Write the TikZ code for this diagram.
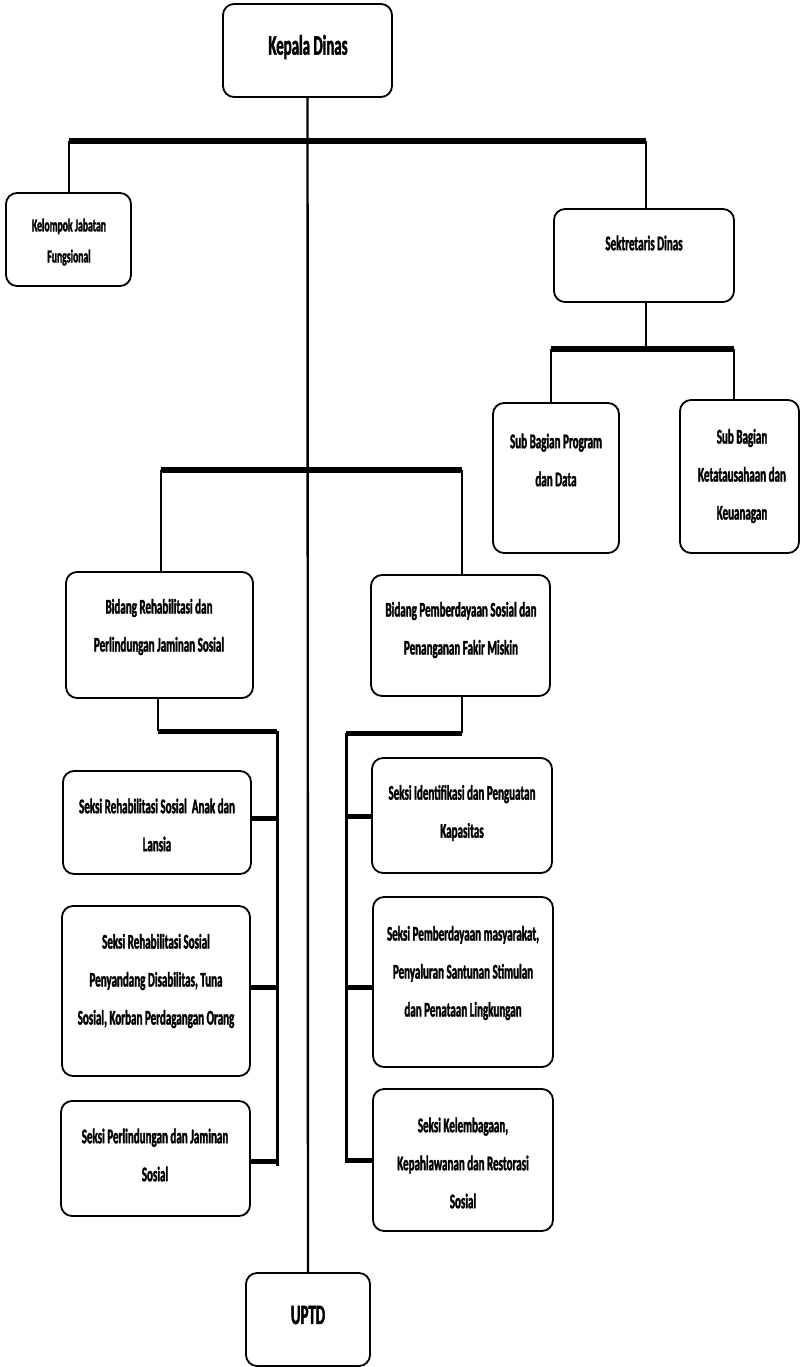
\documentclass[tikz,border=0pt]{standalone}
\usepackage{fontspec}
\setmainfont{Carlito}[FakeStretch=0.53, BoldFont={Carlito Bold}, BoldFeatures={FakeBold=1.6}]
\tikzset{
  box/.style={draw, line width=1.8pt, rounded corners=11pt, inner sep=0pt, outer sep=0pt},
  txt/.style={align=center, inner sep=0pt, font=\bfseries\fontsize{20.8}{38}\selectfont},
  txtbig/.style={align=center, inner sep=0pt, font=\bfseries\fontsize{28}{40}\selectfont},
  txtsmall/.style={align=center, inner sep=0pt, font=\bfseries\fontsize{18.3}{31}\selectfont},
  thin/.style={line width=2.4pt},
  mid/.style={line width=3pt},
  thick/.style={line width=6pt},
  stub/.style={line width=5pt},
}
\begin{document}
\begin{tikzpicture}[x=1pt,y=-1pt]
\useasboundingbox (0,0) rectangle (801,1367);
% boxes
\node[box, minimum width=169pt, minimum height=93pt] (kd) at (307.5,50.5) {};
\node[box, minimum width=125pt, minimum height=93pt] (kjf) at (68.5,239.5) {};
\node[box, minimum width=180pt, minimum height=93pt] (sd) at (644,255.5) {};
\node[box, minimum width=126pt, minimum height=150pt] (sbp) at (556,478) {};
\node[box, minimum width=119pt, minimum height=153pt] (sbk) at (739.5,476.5) {};
\node[box, minimum width=187pt, minimum height=126pt] (br) at (159.5,635) {};
\node[box, minimum width=179pt, minimum height=121pt] (bp) at (460.5,635.5) {};
\node[box, minimum width=188pt, minimum height=103pt] (s1) at (157,822.5) {};
\node[box, minimum width=188pt, minimum height=170pt] (s2) at (156,991) {};
\node[box, minimum width=189pt, minimum height=115pt] (s3) at (155.5,1158.5) {};
\node[box, minimum width=180pt, minimum height=115pt] (t1) at (462,815.5) {};
\node[box, minimum width=180pt, minimum height=170pt] (t2) at (463,982) {};
\node[box, minimum width=180pt, minimum height=142pt] (t3) at (463,1160) {};
\node[box, minimum width=124pt, minimum height=93pt] (uptd) at (308,1319.5) {};
% texts
\node[txtbig] (lkd) at (308,47) {Kepala Dinas};
\node[txtsmall] (lkjf) at (69,242) {Kelompok Jabatan\\Fungsional};
\node[txt] (lsd) at (644,243) {Sektretaris Dinas};
\node[txt] (lsbp) at (556,460) {Sub Bagian Program\\dan Data};
\node[txt] (lsbk) at (742,476) {Sub Bagian\\Ketatausahaan dan\\Keuanagan};
\node[txt] (lbr) at (159,627) {Bidang Rehabilitasi dan\\Perlindungan Jaminan Sosial};
\node[txt] (lbp) at (461,630) {Bidang Pemberdayaan Sosial dan\\Penanganan Fakir Miskin};
\node[txt] (ls1) at (157,825) {Seksi Rehabilitasi Sosial\ \ Anak dan\\Lansia};
\node[txt] (ls2) at (156,981) {Seksi Rehabilitasi Sosial\\Penyandang Disabilitas, Tuna\\Sosial, Korban Perdagangan Orang};
\node[txt] (ls3) at (155,1155) {Seksi Perlindungan dan Jaminan\\Sosial};
\node[txt] (lt1) at (462,813) {Seksi Identifikasi dan Penguatan\\Kapasitas};
\node[txt] (lt2) at (463,973) {Seksi Pemberdayaan masyarakat,\\Penyaluran Santunan Stimulan\\dan Penataan Lingkungan};
\node[txt] (lt3) at (463,1163) {Seksi Kelembagaan,\\Kepahlawanan dan Restorasi\\Sosial};
\node[txtbig] (luptd) at (308,1315) {UPTD};
% coordinates
\coordinate (b1l) at (69,141);
\coordinate (b1r) at (646,141);
\coordinate (b2l) at (551,349);
\coordinate (b2r) at (734,349);
\coordinate (b3l) at (161,470);
\coordinate (b3r) at (462,470);
\coordinate (rl) at (158,731);
\coordinate (rr) at (277,731);
\coordinate (rb) at (277,1166);
\coordinate (pl) at (346,733);
\coordinate (pr) at (462,733);
\coordinate (pb) at (346,1163);
% main trunk
\draw[thin] (kd.south) -- (uptd.north);
% top bar
\draw[thick] (b1l) -- (b1r);
\draw[thin] (b1l) -- (b1l |- kjf.north);
\draw[thin] (b1r) -- (b1r |- sd.north);
% sekretaris
\draw[thin] (b1r |- sd.south) -- (b1r |- b2l);
\draw[thick] (b2l) -- (b2r);
\draw[thin] (b2l) -- (b2l |- sbp.north);
\draw[thin] (b2r) -- (b2r |- sbk.north);
% bidang
\draw[thick] (b3l) -- (b3r);
\draw[thin] (b3l) -- (b3l |- br.north);
\draw[thin] (b3r) -- (b3r |- bp.north);
% rehab branch
\draw[thin] (rl |- br.south) -- (rl);
\draw[stub] (rl) -- (rr);
\draw[mid] (rr) -- (rb);
\draw[stub] (s1.east |- 0,818) -- (277,818);
\draw[stub] (s2.east |- 0,987) -- (277,987);
\draw[stub] (s3.east |- 0,1161) -- (277,1161);
% pemberdayaan branch
\draw[thin] (pr |- bp.south) -- (pr);
\draw[stub] (pr) -- (pl);
\draw[mid] (pl) -- (pb);
\draw[stub] (346,816) -- (t1.west |- 0,816);
\draw[stub] (346,987) -- (t2.west |- 0,987);
\draw[stub] (346,1160) -- (t3.west |- 0,1160);
\end{tikzpicture}
\end{document}
